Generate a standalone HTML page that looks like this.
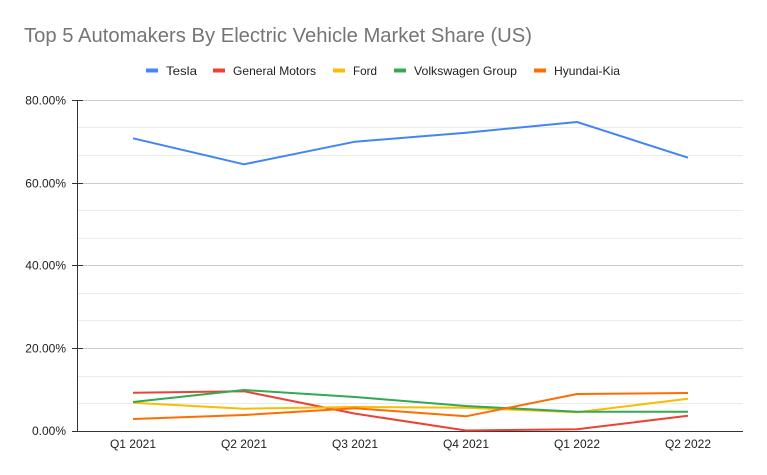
<!DOCTYPE html>
<html>
<head>
<meta charset="utf-8">
<style>
html,body{margin:0;padding:0;background:#fff;}
svg{display:block;}
text{font-family:"Liberation Sans",Arial,sans-serif;}
</style>
</head>
<body>
<svg width="767" height="475" viewBox="0 0 767 475" xmlns="http://www.w3.org/2000/svg">
<rect width="767" height="475" fill="#fff"/>
<text x="24" y="42" font-size="20" fill="#757575" textLength="508" lengthAdjust="spacingAndGlyphs">Top 5 Automakers By Electric Vehicle Market Share (US)</text>

<!-- legend -->
<rect x="146" y="68.5" width="12" height="4" fill="#4285F4"/>
<text x="166" y="75" font-size="12" fill="#222" textLength="31" lengthAdjust="spacingAndGlyphs">Tesla</text>
<rect x="213" y="68.5" width="12" height="4" fill="#EA4335"/>
<text x="233" y="75" font-size="12" fill="#222" textLength="83" lengthAdjust="spacingAndGlyphs">General Motors</text>
<rect x="333" y="68.5" width="12" height="4" fill="#FBBC04"/>
<text x="353" y="75" font-size="12" fill="#222" textLength="24" lengthAdjust="spacingAndGlyphs">Ford</text>
<rect x="394" y="68.5" width="12" height="4" fill="#34A853"/>
<text x="414" y="75" font-size="12" fill="#222" textLength="103" lengthAdjust="spacingAndGlyphs">Volkswagen Group</text>
<rect x="534" y="68.5" width="12" height="4" fill="#FF6D01"/>
<text x="554" y="75" font-size="12" fill="#222" textLength="66" lengthAdjust="spacingAndGlyphs">Hyundai-Kia</text>

<!-- minor gridlines -->
<g stroke="#ebebeb" stroke-width="1">
<line x1="77" x2="743" y1="127.5" y2="127.5"/>
<line x1="77" x2="743" y1="155.5" y2="155.5"/>
<line x1="77" x2="743" y1="210.5" y2="210.5"/>
<line x1="77" x2="743" y1="238.5" y2="238.5"/>
<line x1="77" x2="743" y1="293.5" y2="293.5"/>
<line x1="77" x2="743" y1="320.5" y2="320.5"/>
<line x1="77" x2="743" y1="376.5" y2="376.5"/>
<line x1="77" x2="743" y1="403.5" y2="403.5"/>
</g>
<!-- major gridlines -->
<g stroke="#cccccc" stroke-width="1">
<line x1="77" x2="743" y1="100.5" y2="100.5"/>
<line x1="77" x2="743" y1="183.5" y2="183.5"/>
<line x1="77" x2="743" y1="265.5" y2="265.5"/>
<line x1="77" x2="743" y1="348.5" y2="348.5"/>
</g>

<!-- axes -->
<g stroke="#333" stroke-width="1">
<line x1="77.5" x2="77.5" y1="100" y2="431"/>
<line x1="72" x2="83" y1="100.5" y2="100.5"/>
<line x1="72" x2="83" y1="183.5" y2="183.5"/>
<line x1="72" x2="83" y1="265.5" y2="265.5"/>
<line x1="72" x2="83" y1="348.5" y2="348.5"/>
<line x1="72" x2="83" y1="431.5" y2="431.5"/>
<line x1="77" x2="743" y1="431.5" y2="431.5"/>
</g>

<!-- y labels -->
<g font-size="12" fill="#222" text-anchor="end">
<text x="66" y="104.5">80.00%</text>
<text x="66" y="187.5">60.00%</text>
<text x="66" y="269.5">40.00%</text>
<text x="66" y="352.5">20.00%</text>
<text x="66" y="435">0.00%</text>
</g>

<!-- x labels -->
<g font-size="12" fill="#222" text-anchor="middle">
<text x="133" y="448">Q1 2021</text>
<text x="244" y="448">Q2 2021</text>
<text x="355" y="448">Q3 2021</text>
<text x="466" y="448">Q4 2021</text>
<text x="577" y="448">Q1 2022</text>
<text x="688" y="448">Q2 2022</text>
</g>

<!-- series -->
<g fill="none" stroke-width="2" stroke-linejoin="round">
<polyline stroke="#4285F4" points="133,138.3 244,164.3 355,141.7 466,132.7 577,122 688,157.7"/>
<polyline stroke="#EA4335" points="133,392.7 244,391.3 355,413.6 466,430.5 577,429.3 688,415.7"/>
<polyline stroke="#FBBC04" points="133,402.7 244,408.7 355,407 466,407.7 577,412.3 688,398.7"/>
<polyline stroke="#34A853" points="133,402 244,390 355,397 466,406 577,411.7 688,411.7"/>
<polyline stroke="#FF6D01" points="133,419 244,415 355,408.3 466,416.3 577,394 688,393"/>
</g>
</svg>
</body>
</html>
